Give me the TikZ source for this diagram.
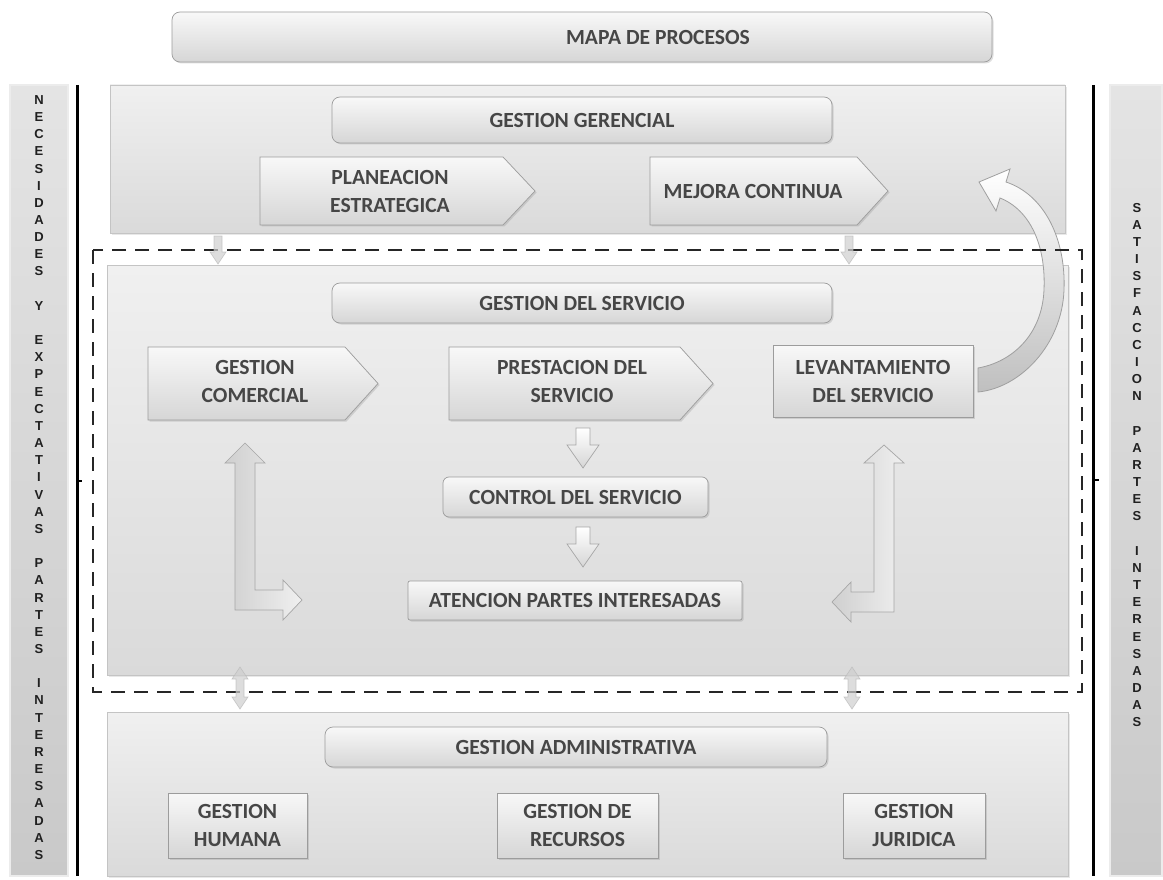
\documentclass[tikz,border=0pt]{standalone}
\usepackage{fontspec}
\setmainfont{Carlito}
\newfontfamily\barfont{Liberation Sans}
\usetikzlibrary{shadows,calc}

\definecolor{txt}{HTML}{464646}
\definecolor{sidetxt}{HTML}{202020}
\definecolor{edge}{HTML}{9C9C9C}
\definecolor{boxtop}{HTML}{F8F8F8}
\definecolor{boxbot}{HTML}{D6D6D6}
\definecolor{paneltop}{HTML}{F0F0F0}
\definecolor{panelbot}{HTML}{DADADA}
\definecolor{paneledge}{HTML}{C4C4C4}
\definecolor{bartop}{HTML}{E4E4E4}
\definecolor{barbot}{HTML}{C9C9C9}
\definecolor{arrfill}{HTML}{CFCFCF}
\definecolor{arredge}{HTML}{A6A6A6}

\tikzset{
  panel/.style={draw=paneledge, line width=0.8pt, top color=paneltop, bottom color=panelbot,
    inner sep=0pt, drop shadow={opacity=0.18, shadow xshift=2pt, shadow yshift=-2pt}},
  sidebar/.style={draw=white!85!gray, line width=1.2pt, top color=bartop, bottom color=barbot, inner sep=0pt},
  box/.style={draw=edge, line width=0.7pt, top color=boxtop, bottom color=boxbot, inner sep=0pt,
    drop shadow={opacity=0.25, shadow xshift=1.5pt, shadow yshift=-1.5pt}},
  chevbox/.style={draw=edge, line width=0.7pt, top color=boxtop, bottom color=boxbot,
    drop shadow={opacity=0.25, shadow xshift=1.5pt, shadow yshift=-1.5pt}},
  lbl/.style={text=txt, font=\bfseries\fontsize{21.6}{28}\selectfont, align=center, inner sep=0pt},
  sidetext/.style={text=sidetxt, font=\barfont\bfseries\fontsize{13}{17.16}\selectfont, align=center, inner sep=0pt},
  blockarrow/.style={draw=arredge, line width=0.7pt, top color=white, bottom color=boxbot},
  smallarrow/.style={draw=arredge!80, line width=0.6pt, fill=arrfill, opacity=0.7},
  larrow/.style={draw=arredge, line width=0.7pt, left color=arrfill, right color=white!88!gray},
  curvearrow/.style={draw=gray!75, line width=0.8pt, top color=white, bottom color=gray!50},
  frame/.style={draw=black!85, line width=2.6pt, dash pattern=on 14pt off 9pt},
  border/.style={draw=black, line width=3pt},
}

% chevron: body left, top, shoulder x, bottom, tip x
\newcommand\chevshape[5]{%
  \path[chevbox] (#1,#2) -- (#3,#2) -- (#5,{(#2+#4)/2}) -- (#3,#4) -- (#1,#4) -- cycle;}
% downward block arrow centred on a coordinate
\newcommand\downblock[1]{%
  \begin{scope}[shift={(#1)}]
    \path[blockarrow] (-7,-20) -- (7,-20) -- (7,-3) -- (16,-3) -- (0,20) -- (-16,-3) -- (-7,-3) -- cycle;
  \end{scope}}
\newcommand\smalldown[1]{%
  \begin{scope}[shift={(#1)}]
    \path[smallarrow] (-4,-14) -- (4,-14) -- (4,2) -- (8,2) -- (0,14) -- (-8,2) -- (-4,2) -- cycle;
  \end{scope}}
\newcommand\smallboth[1]{%
  \begin{scope}[shift={(#1)}]
    \path[smallarrow] (0,-21) -- (8,-9) -- (4,-9) -- (4,9) -- (8,9) -- (0,21) -- (-8,9) -- (-4,9)
      -- (-4,-9) -- (-8,-9) -- cycle;
  \end{scope}}

\begin{document}
\begin{tikzpicture}[x=1pt,y=-1pt]
\useasboundingbox[fill=white] (0,0) rectangle (1163,880);

% side bars and their stacked captions
\node[sidebar, minimum width=58pt, minimum height=791pt] (barL) at (39,480.5) {};
\node[sidebar, minimum width=52pt, minimum height=791pt] (barR) at (1136,480.5) {};
\node[sidetext] (txtL) at (39,477.5) {N\\E\\C\\E\\S\\I\\D\\A\\D\\E\\S\\\mbox{}\\Y\\\mbox{}\\E\\X\\P\\E\\C\\T\\A\\T\\I\\V\\A\\S\\\mbox{}\\P\\A\\R\\T\\E\\S\\\mbox{}\\I\\N\\T\\E\\R\\E\\S\\A\\D\\A\\S};
\node[sidetext] (txtR) at (1137,465) {S\\A\\T\\I\\S\\F\\A\\C\\C\\I\\O\\N\\\mbox{}\\P\\A\\R\\T\\E\\S\\\mbox{}\\I\\N\\T\\E\\R\\E\\S\\A\\D\\A\\S};

% black boundary lines
\coordinate (lTop) at (77,85);   \coordinate (lBot) at (77,876);
\coordinate (rTop) at (1093,85); \coordinate (rBot) at (1093,876);
\draw[border] (lTop) -- (lBot);
\draw[border] (rTop) -- (rBot);
\coordinate (lMid) at (77,481); \coordinate (rMid) at (1093,480);
\draw[line width=2pt] (lMid) -- ++(5,0);
\draw[line width=2pt] (rMid) -- ++(6,0);

% title
\node[box, rounded corners=8pt, minimum width=820pt, minimum height=50pt] (mapa) at (582,37) {};
\node[lbl] (mapatxt) at (658,37) {MAPA DE PROCESOS};

% panels
\node[panel, minimum width=955pt, minimum height=148pt] (pGer) at (587.5,159) {};
\node[panel, minimum width=961pt, minimum height=410pt] (pSer) at (587.5,470) {};
\node[panel, minimum width=961pt, minimum height=164pt] (pAdm) at (587.5,794) {};

% strategic level
\node[box, rounded corners=8pt, minimum width=500pt, minimum height=46pt, lbl] (ger) at (582,120) {GESTION GERENCIAL};
\chevshape{260}{157}{503}{225}{535}
\node[lbl] (plan) at (390,191) {PLANEACION\\ESTRATEGICA};
\chevshape{650}{157}{857}{225}{888}
\node[lbl] (mejora) at (753,191) {MEJORA CONTINUA};

% service level
\node[box, rounded corners=8pt, minimum width=500pt, minimum height=40pt, lbl] (ser) at (582,303) {GESTION DEL SERVICIO};
\chevshape{148}{347}{345}{420}{378}
\node[lbl] (com) at (255,381) {GESTION\\COMERCIAL};
\chevshape{449}{347}{680}{420}{713}
\node[lbl] (prest) at (572,381) {PRESTACION DEL\\SERVICIO};
\node[box, minimum width=200pt, minimum height=72pt, lbl] (lev) at (873,381) {LEVANTAMIENTO\\DEL SERVICIO};
\node[box, rounded corners=6pt, minimum width=265pt, minimum height=40pt, lbl] (ctrl) at (575.5,497) {CONTROL DEL SERVICIO};
\node[box, rounded corners=2pt, minimum width=334pt, minimum height=39pt, lbl] (aten) at (575,600.5) {ATENCION PARTES INTERESADAS};

% flow arrows inside the service panel
\coordinate (d1) at (583,448);
\coordinate (d2) at (583,547);
\downblock{d1}
\downblock{d2}

% left L-shaped arrow
\path[larrow] (245,443) -- (265,463) -- (255,463) -- (255,590) -- (283,590) -- (283,580) -- (302,600)
  -- (283,620) -- (283,610) -- (235,610) -- (235,463) -- (225,463) -- cycle;
% right L-shaped arrow
\path[larrow] (884,445) -- (904,463) -- (894,463) -- (894,612) -- (851,612) -- (851,622) -- (832,602)
  -- (851,582) -- (851,592) -- (874,592) -- (874,463) -- (864,463) -- cycle;

% curved feedback arrow from LEVANTAMIENTO up to the strategic level
\path[curvearrow] (978,368) .. controls (1012,362) and (1042,335) .. (1044,290)
  .. controls (1046,245) and (1030,210) .. (1000,198)
  -- (996,211) -- (979,182) -- (1010,169) -- (1006,182)
  .. controls (1045,195) and (1066,240) .. (1064,290)
  .. controls (1062,345) and (1020,388) .. (978,392) -- cycle;

% dashed frame around the operative processes
\draw[frame] (93,250) rectangle (1082,692);

% links between levels
\coordinate (u1) at (218,250);  \coordinate (u2) at (849,250);
\coordinate (b1) at (240,688);  \coordinate (b2) at (852,688);
\smalldown{u1}
\smalldown{u2}
\smallboth{b1}
\smallboth{b2}

% support level
\node[box, rounded corners=8pt, minimum width=502pt, minimum height=40pt, lbl] (adm) at (576,747) {GESTION ADMINISTRATIVA};
\node[box, minimum width=139pt, minimum height=65pt, lbl] (hum) at (237.5,825.5) {GESTION\\HUMANA};
\node[box, minimum width=161pt, minimum height=65pt, lbl] (rec) at (577.5,825.5) {GESTION DE\\RECURSOS};
\node[box, minimum width=142pt, minimum height=65pt, lbl] (jur) at (914,825.5) {GESTION\\JURIDICA};
\end{tikzpicture}
\end{document}
